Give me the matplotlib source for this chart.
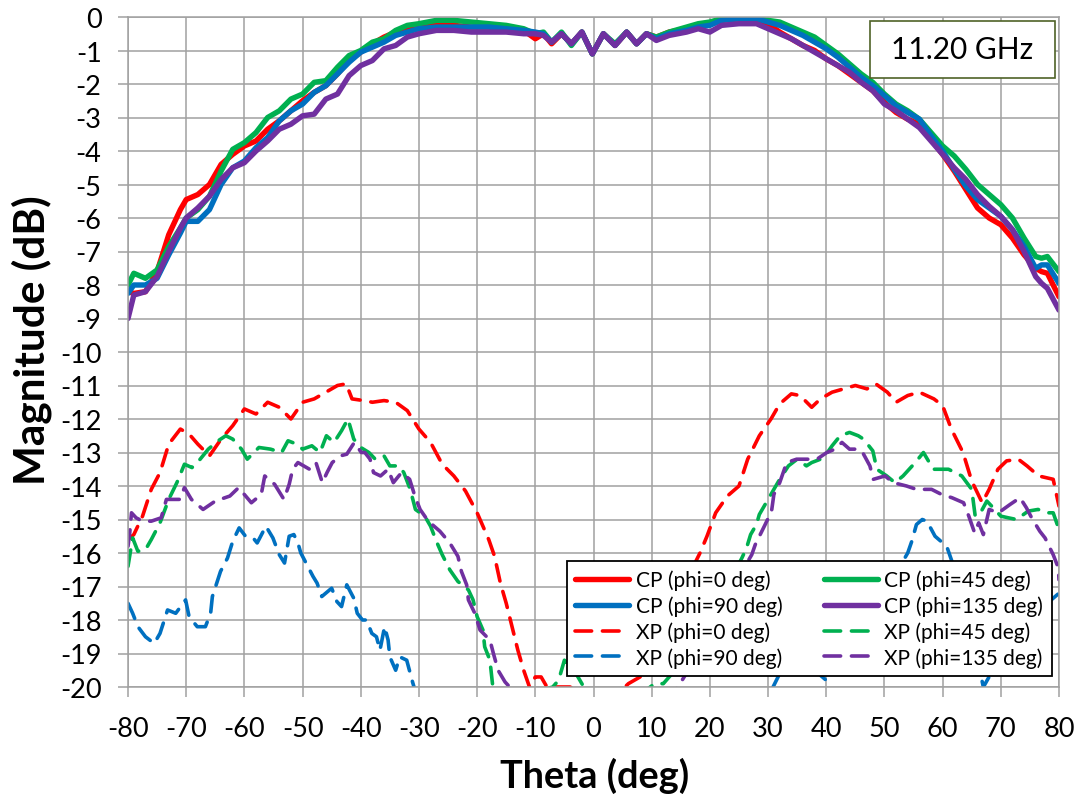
import numpy as np
import matplotlib
matplotlib.use('Agg')
import matplotlib.pyplot as plt
from matplotlib.patches import Rectangle

plt.rcParams['font.family'] = ['Lato', 'DejaVu Sans']
plt.rcParams['axes.unicode_minus'] = False

# co-pol samples, shared theta grid (deg)
theta_cp = [-80, -79, -77, -75, -73, -71, -70, -68, -66, -64, -62, -60, -58, -56, -54, -52,
            -50, -48, -46, -44, -42, -40, -38, -36, -34, -32, -30, -27, -24, -21, -18, -15,
            -12, -10, -8.6, -7.2, -5.5, -3.8, -2, -0.2, 1.7, 3.7, 5.7, 7.4, 9.1, 10.8, 13, 16,
            18, 20, 22, 25, 28, 30, 32, 34, 36, 38, 40, 42, 44, 46, 48, 50,
            52, 54, 56, 58, 60, 62, 64, 66, 68, 70, 72, 74, 76, 77, 78, 80]

cp_phi0 = [-8.2, -8.25, -8.2, -7.6, -6.5, -5.75, -5.45, -5.3, -5.0, -4.4, -4.1, -3.85, -3.7, -3.35, -3.1, -2.8,
           -2.5, -2.25, -2.05, -1.7, -1.3, -1.05, -0.8, -0.6, -0.45, -0.35, -0.25, -0.2, -0.25, -0.3, -0.3, -0.35,
           -0.4, -0.65, -0.5, -0.8, -0.5, -0.8, -0.45, -1.1, -0.5, -0.85, -0.45, -0.8, -0.5, -0.6, -0.45, -0.35,
           -0.25, -0.2, -0.1, -0.05, -0.1, -0.2, -0.45, -0.65, -0.85, -1.0, -1.25, -1.45, -1.7, -1.95, -2.2, -2.55,
           -2.85, -3.05, -3.2, -3.65, -4.1, -4.6, -5.15, -5.7, -6.0, -6.2, -6.6, -7.1, -7.5, -7.6, -7.65, -8.35]

cp_phi45 = [-8.0, -7.65, -7.8, -7.55, -6.85, -6.3, -6.0, -5.75, -5.35, -4.6, -3.95, -3.75, -3.45, -3.0, -2.8, -2.45,
            -2.3, -1.95, -1.9, -1.5, -1.15, -1.0, -0.75, -0.65, -0.4, -0.25, -0.2, -0.1, -0.1, -0.15, -0.2, -0.25,
            -0.35, -0.5, -0.45, -0.75, -0.45, -0.85, -0.45, -1.1, -0.5, -0.8, -0.45, -0.8, -0.5, -0.6, -0.45, -0.3,
            -0.2, -0.15, -0.05, -0.05, -0.05, -0.1, -0.15, -0.3, -0.45, -0.6, -0.85, -1.1, -1.4, -1.7, -1.95, -2.3,
            -2.6, -2.8, -3.05, -3.45, -3.85, -4.15, -4.55, -5.0, -5.3, -5.6, -6.0, -6.6, -7.15, -7.2, -7.15, -7.6]

cp_phi90 = [-8.25, -8.0, -8.0, -7.8, -7.1, -6.45, -6.1, -6.1, -5.75, -5.0, -4.5, -4.3, -3.9, -3.6, -3.1, -2.8,
            -2.6, -2.25, -2.05, -1.7, -1.35, -1.05, -0.9, -0.75, -0.55, -0.45, -0.35, -0.3, -0.3, -0.3, -0.3, -0.35,
            -0.4, -0.45, -0.5, -0.75, -0.5, -0.8, -0.45, -1.1, -0.5, -0.85, -0.45, -0.8, -0.5, -0.65, -0.5, -0.4,
            -0.3, -0.25, -0.1, -0.05, -0.05, -0.15, -0.25, -0.4, -0.55, -0.75, -0.95, -1.2, -1.5, -1.8, -2.05, -2.35,
            -2.65, -2.85, -3.05, -3.55, -4.0, -4.55, -5.05, -5.45, -5.7, -5.95, -6.35, -6.85, -7.5, -7.4, -7.4, -7.95]

cp_phi135 = [-9.0, -8.3, -8.2, -7.75, -7.0, -6.3, -6.0, -5.7, -5.35, -4.85, -4.5, -4.35, -4.0, -3.7, -3.35, -3.2,
             -2.95, -2.9, -2.45, -2.3, -1.75, -1.45, -1.3, -0.95, -0.85, -0.6, -0.5, -0.4, -0.4, -0.45, -0.45, -0.45,
             -0.5, -0.5, -0.55, -0.75, -0.5, -0.8, -0.45, -1.1, -0.5, -0.85, -0.45, -0.8, -0.5, -0.7, -0.55, -0.45,
             -0.35, -0.45, -0.25, -0.2, -0.2, -0.35, -0.5, -0.65, -0.85, -1.05, -1.25, -1.45, -1.65, -1.95, -2.2, -2.6,
             -2.8, -3.05, -3.3, -3.7, -4.1, -4.5, -4.85, -5.3, -5.65, -5.95, -6.35, -7.0, -7.75, -7.95, -8.1, -8.75]

# cross-pol samples (values below -20 fall outside the plotted range)
theta_xp0 = [-80, -79, -77.5, -76, -74.5, -73, -71, -69.5, -68, -66, -64, -62, -60, -58, -56, -54, -52,
             -50, -48, -46, -44, -42.5, -41.5, -39.5, -38, -36, -34, -32, -30, -28, -26, -24, -22, -20,
             -18, -17, -16, -15, -14, -13, -12, -11, -10, -9, -8, -6, -4, -2, 0, 3, 6, 8, 10, 12, 14, 16,
             18.3, 19.5, 21, 23, 25, 26.5, 28.5, 30.5, 32, 34, 35.5, 37.5, 39, 41, 43, 45, 47, 48.5,
             50.5, 52, 54, 56, 58.5, 60, 61.5, 63.5, 65, 66.8, 68, 69.5, 71, 73, 74.5, 76.5, 79, 80]
xp_phi0 = [-15.6, -15.45, -14.9, -14.1, -13.6, -12.75, -12.3, -12.45, -12.75, -13.1, -12.6, -12.2, -11.7, -11.85, -11.5, -11.65, -12.0,
           -11.5, -11.4, -11.2, -11.0, -10.95, -11.4, -11.45, -11.5, -11.45, -11.5, -11.75, -12.3, -12.7, -13.35, -13.7, -14.15, -14.8,
           -15.6, -16.1, -16.9, -17.5, -18.2, -18.9, -19.5, -20.0, -19.7, -19.7, -20.0, -20.0, -20.0, -20.3, -20.5, -20.4, -19.9, -19.7, -19.0, -18.3, -17.5, -16.8,
           -16.0, -15.5, -14.8, -14.3, -14.0, -13.2, -12.5, -12.0, -11.55, -11.25, -11.3, -11.65, -11.4, -11.2, -11.1, -11.0, -11.1, -10.95,
           -11.2, -11.5, -11.3, -11.2, -11.4, -11.6, -12.3, -13.0, -13.85, -14.5, -14.1, -13.5, -13.25, -13.2, -13.4, -13.7, -13.8, -14.6]

theta_xp45 = [-80, -79.2, -78.3, -77, -76, -74.5, -73, -71.6, -70.3, -69, -67.6, -66.2, -64.5, -63.2, -62, -60.5, -59.5,
              -57.5, -55.5, -53.6, -52.5, -51, -50, -48.4, -47, -45.9, -44.6, -43.3, -42.2, -41.2, -40, -38.6, -37.5,
              -36, -35, -33.4, -32.6, -31.5, -30.6, -29, -28, -27, -26, -24.7, -23.3, -21.5, -20.7, -20, -19, -18.7,
              -17.8, -17.3, -16, -12, -9, -7, -6, -5, -3, -1, 2, 6, 9, 10.5, 12, 15, 18, 21, 23.5, 25.5, 26.3, 27,
              28, 28.5, 29.5, 31, 32, 33.5, 35, 36.6, 37.5, 39, 40, 41, 42.4, 44, 45.5, 46.4, 48, 48.7, 50.4, 51.8,
              53.2, 55.3, 56.7, 58.4, 61, 63.3, 65, 65.6, 66.5, 67.6, 68.7, 70, 71.3, 72.7, 74.7, 76.4, 78, 79, 80]
xp_phi45 = [-16.4, -15.55, -15.95, -15.9, -15.6, -15.1, -14.4, -13.9, -13.35, -13.45, -13.2, -12.9, -12.65, -12.5, -12.6, -12.9, -13.2,
            -12.85, -12.9, -13.0, -12.65, -12.75, -12.9, -12.8, -13.0, -12.5, -12.7, -12.35, -12.0, -12.6, -12.85, -13.0, -13.2,
            -13.1, -13.4, -13.4, -13.6, -14.1, -14.7, -14.9, -15.2, -15.65, -16.05, -16.5, -16.85, -17.1, -17.4, -17.9, -18.3, -18.8,
            -19.2, -20.0, -20.5, -20.4, -20.1, -20.0, -19.8, -19.2, -19.6, -20.2, -20.5, -20.4, -20.1, -19.9, -19.9, -19.3, -18.5, -17.6, -16.8, -16.15, -15.85, -15.45,
            -15.15, -14.85, -14.55, -14.1, -13.8, -13.4, -13.2, -13.4, -13.3, -13.2, -13.05, -12.8, -12.5, -12.4, -12.5, -12.6, -12.95, -13.5, -13.7, -13.9,
            -13.7, -13.3, -13.0, -13.5, -13.5, -13.7, -14.1, -14.9, -14.8, -14.45, -14.65, -14.9, -14.95, -15.0, -14.75, -14.7, -14.8, -14.8, -15.3]

theta_xp90 = [-80, -79.2, -78.3, -77, -75.5, -74.5, -73.2, -71.8, -70.1, -69.5, -68.1, -66.7, -65.8, -65.5, -64.1, -62.9,
              -62, -60.9, -59.8, -58.5, -57.8, -56.3, -55.1, -54, -53.1, -52.3, -51.5, -50.8, -50.3, -49.4, -48.2, -47.5,
              -46.7, -45, -44.1, -43.3, -42.4, -41.2, -40.6, -39.7, -39, -38.1, -37.3, -36.7, -35.9, -35.3, -35, -34,
              -33.3, -32.1, -31.1, -30, -25, -15, 0, 15, 25, 30, 32, 35, 38, 40, 43, 46, 49, 52, 54, 54.7, 55.5,
              56.5, 57.3, 58.7, 60.7, 62.5, 64.5, 66, 67, 68.3, 70, 72, 75, 78, 80]
xp_phi90 = [-17.5, -17.8, -18.2, -18.5, -18.7, -18.4, -17.7, -17.8, -17.4, -17.9, -18.2, -18.2, -17.8, -17.3, -16.55, -16.15,
            -15.65, -15.25, -15.5, -15.55, -15.7, -15.2, -15.55, -16.05, -16.3, -15.5, -15.45, -15.7, -16.0, -16.3, -16.7, -16.9,
            -17.3, -17.05, -17.45, -17.6, -16.95, -17.35, -17.8, -18.0, -18.0, -18.4, -18.5, -18.9, -18.2, -18.6, -19.1, -19.5,
            -19.1, -19.2, -19.85, -20.5, -21.5, -22.0, -22.0, -21.5, -20.8, -20.3, -19.6, -19.2, -19.5, -19.8, -19.2, -18.4, -17.5, -16.6, -16.0, -15.65, -15.15,
            -15.0, -15.05, -15.5, -15.8, -16.7, -18.0, -19.2, -20.0, -19.6, -19.0, -18.5, -17.9, -17.5, -17.2]

theta_xp135 = [-80, -79.7, -79.4, -78.6, -77.5, -76, -74.3, -73.4, -71.1, -70.3, -69.1, -67.1, -65, -62.5, -61, -58.8,
               -57.1, -56.5, -54.8, -53.2, -52.3, -51.7, -50.8, -48.8, -47.7, -46.6, -45.8, -44.9, -43.5, -42.4, -41.1,
               -39.9, -39.3, -38.4, -37.8, -36.6, -35.3, -34.4, -33, -31.6, -30.7, -29.8, -28.4, -26.4, -24.7, -23.3,
               -22.7, -21.8, -21.5, -20.4, -19.5, -17.8, -17.2, -16.4, -15.2, -14.4, -12, -5, 5, 12, 14.5, 15.4, 18,
               21, 24, 27.2, 27.8, 29.5, 30.6, 31, 32, 33.2, 34.9, 36.1, 38.4, 40.1, 41.5, 42.7, 44, 45, 46.1, 47.5,
               48.1, 50.1, 51.5, 53.8, 55.5, 58.1, 59.8, 61.6, 63.6, 64.5, 65.5, 66.2, 67, 68, 69.6, 71.6, 73.3, 74.4,
               75.3, 76.7, 77.6, 79, 79.9, 80]
xp_phi135 = [-15.8, -15.4, -14.8, -14.95, -15.05, -15.05, -14.95, -14.4, -14.4, -14.05, -14.4, -14.7, -14.45, -14.3, -14.05, -14.5,
             -14.25, -13.7, -13.95, -14.4, -13.95, -13.5, -13.3, -13.5, -13.3, -13.9, -13.6, -13.3, -13.1, -13.05, -12.7,
             -13.0, -13.0, -13.2, -13.6, -13.7, -13.5, -13.9, -13.6, -13.8, -14.3, -14.7, -15.05, -15.35, -15.7, -16.1,
             -16.55, -16.95, -17.4, -17.8, -18.3, -18.6, -19.0, -19.5, -19.85, -20.0, -20.6, -21.0, -21.0, -20.5, -20.0, -19.75, -19.0,
             -18.0, -17.0, -16.05, -15.75, -15.15, -14.75, -14.25, -13.9, -13.3, -13.2, -13.2, -13.2, -13.0, -12.9, -12.7, -12.9, -12.9, -12.95, -13.4,
             -13.8, -13.7, -13.9, -14.0, -14.1, -14.1, -14.25, -14.35, -14.5, -14.9, -15.4, -15.1, -15.45, -14.7, -14.8, -14.55, -14.35, -14.65,
             -14.95, -15.35, -15.55, -16.05, -16.45, -16.8]

RED, GREEN, BLUE, PURPLE = '#FF0000', '#00B050', '#0070C0', '#7030A0'
font_size = 19.5

fig = plt.figure(figsize=(10.82, 8.03), dpi=100)
ax = fig.add_axes([128 / 1082, 1 - 688 / 803, 931 / 1082, 670 / 803])

cp_lw = 3.9
xp_lw = 2.6
dash = (0, (4.6, 3.0))
l_cp0, = ax.plot(theta_cp, cp_phi0, color=RED, lw=cp_lw, solid_capstyle='round', label='CP (phi=0 deg)')
l_cp45, = ax.plot(theta_cp, cp_phi45, color=GREEN, lw=cp_lw, solid_capstyle='round', label='CP (phi=45 deg)')
l_cp90, = ax.plot(theta_cp, cp_phi90, color=BLUE, lw=cp_lw, solid_capstyle='round', label='CP (phi=90 deg)')
l_cp135, = ax.plot(theta_cp, cp_phi135, color=PURPLE, lw=cp_lw, solid_capstyle='round', label='CP (phi=135 deg)')
l_xp0, = ax.plot(theta_xp0, xp_phi0, color=RED, lw=xp_lw, ls=dash, dash_capstyle='round', label='XP (phi=0 deg)')
l_xp45, = ax.plot(theta_xp45, xp_phi45, color=GREEN, lw=xp_lw, ls=dash, dash_capstyle='round', label='XP (phi=45 deg)')
l_xp90, = ax.plot(theta_xp90, xp_phi90, color=BLUE, lw=xp_lw, ls=dash, dash_capstyle='round', label='XP (phi=90 deg)')
l_xp135, = ax.plot(theta_xp135, xp_phi135, color=PURPLE, lw=xp_lw, ls=dash, dash_capstyle='round', label='XP (phi=135 deg)')

ax.set_xlim(-80, 80)
ax.set_ylim(-20, 0)
ax.set_xticks(np.arange(-80, 81, 10))
ax.set_yticks(np.arange(-20, 1, 1))
ax.grid(True, color='#A0A0A0', lw=1.1)
ax.set_axisbelow(True)
for s in ax.spines.values():
    s.set_color('#A0A0A0')
    s.set_linewidth(1.1)
ax.tick_params(axis='both', direction='out', length=7, width=1.1, color='#A0A0A0',
               labelsize=font_size, labelcolor='black')
ax.tick_params(axis='y', pad=12)
ax.tick_params(axis='x', pad=14)

# axis titles placed in figure pixels, sized to the reference text extents
renderer = fig.canvas.get_renderer()
xlab = fig.text(595 / 1082, 1 - 776 / 803, 'Theta (deg)', ha='center', va='center',
                fontsize=24, fontweight='bold')
ylab = fig.text(32 / 1082, 1 - 340 / 803, 'Magnitude (dB)', ha='center', va='center',
                fontsize=24, fontweight='bold', rotation=90)
xlab.set_fontsize(24 * 190 / xlab.get_window_extent(renderer).width)
ylab.set_fontsize(24 * 290 / ylab.get_window_extent(renderer).height)

handles = [l_cp0, l_cp90, l_xp0, l_xp90, l_cp45, l_cp135, l_xp45, l_xp135]
leg = ax.legend(handles=handles, ncol=2, loc='lower right', bbox_to_anchor=(0.992, 0.0164),
                fontsize=15, frameon=True, fancybox=False, framealpha=1, edgecolor='black',
                handlelength=2.6, handletextpad=0.3, columnspacing=2.0, labelspacing=0.25,
                borderpad=0.4, borderaxespad=0)
leg.get_frame().set_linewidth(1.3)

ax.add_patch(Rectangle((742 / 931, 609 / 670), 185 / 931, 57 / 670, transform=ax.transAxes,
                       facecolor='white', edgecolor='#4F6228', lw=1.2, zorder=5))
ax.text(834 / 931, 638 / 670, '11.20 GHz', transform=ax.transAxes, ha='center', va='center',
        fontsize=21.5, zorder=6)

fig.savefig('out.png', dpi=100)
